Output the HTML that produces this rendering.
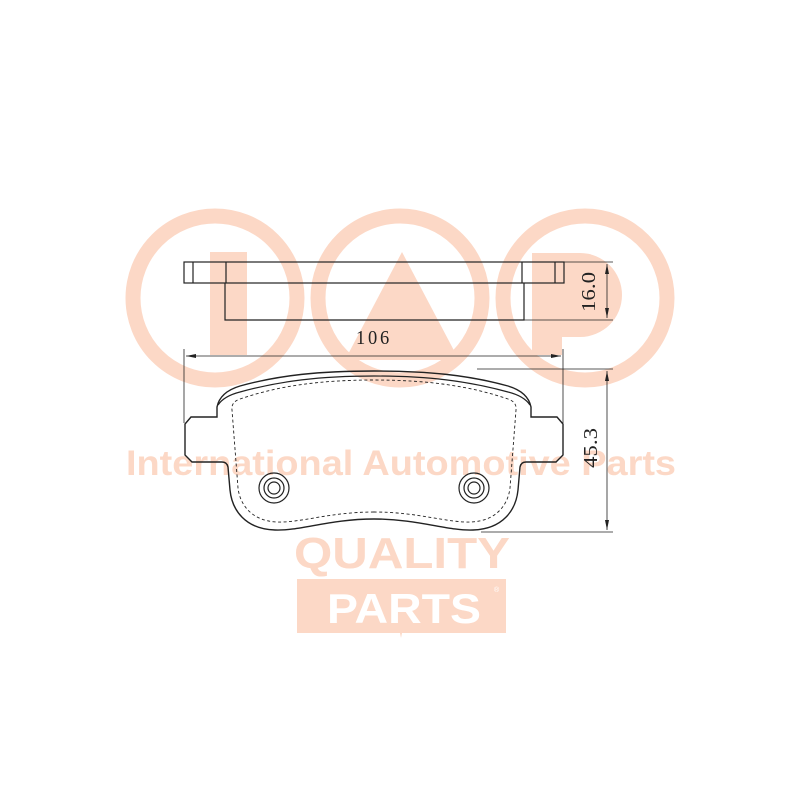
<!DOCTYPE html>
<html><head><style>
html,body{margin:0;padding:0;background:#fff;width:800px;height:800px;overflow:hidden;}
svg{display:block}
</style></head><body>
<svg width="800" height="800" viewBox="0 0 800 800" xmlns="http://www.w3.org/2000/svg">
<g fill="none" stroke="#fcd8c6" stroke-width="15">
<circle cx="215" cy="298" r="82"/>
<circle cx="400" cy="298" r="82"/>
<circle cx="585" cy="298" r="82"/>
</g>
<g fill="#fcd8c6">
<rect x="210" y="252" width="37" height="103"/>
<polygon points="402,252 345,360 459,360"/>
<rect x="532" y="253" width="30" height="102"/>
<path d="M532,253 L580,253 A42,42 0 0 1 580,337 L532,337 Z"/>
<text x="401" y="475" font-family="Liberation Sans, sans-serif" font-weight="bold" font-size="35" text-anchor="middle" textLength="550" lengthAdjust="spacingAndGlyphs">International Automotive Parts</text>
<text x="402" y="568" font-family="Liberation Sans, sans-serif" font-weight="bold" font-size="44" text-anchor="middle" textLength="216" lengthAdjust="spacingAndGlyphs">QUALITY</text>
<path d="M297,579 L506,579 L506,633 L402,633 L401,638 L400,633 L297,633 Z"/>
</g>
<text x="404" y="623" fill="#fff" font-family="Liberation Sans, sans-serif" font-weight="bold" font-size="42" text-anchor="middle" textLength="154" lengthAdjust="spacingAndGlyphs">PARTS</text>
<text x="494" y="592" fill="#fff" font-family="Liberation Sans, sans-serif" font-size="7">®</text>

<g fill="none" stroke="#222" stroke-width="1.2">
<rect x="184" y="262" width="380" height="21"/>
<line x1="193" y1="262" x2="193" y2="283"/>
<line x1="226" y1="262" x2="226" y2="283"/>
<line x1="522" y1="262" x2="522" y2="283"/>
<line x1="555" y1="262" x2="555" y2="283"/>
<polyline points="225,283 225,320 524,320 524,283"/>
<line x1="564" y1="262" x2="613" y2="262" stroke-width="0.8"/>
<line x1="524" y1="320" x2="613" y2="320" stroke-width="0.8"/>
<line x1="607" y1="264" x2="607" y2="318" stroke-width="0.8"/>
<line x1="184" y1="349" x2="184" y2="423" stroke-width="0.8"/>
<line x1="563" y1="349" x2="563" y2="423" stroke-width="0.8"/>
<line x1="186" y1="356" x2="561" y2="356" stroke-width="0.8"/>
<line x1="477" y1="369" x2="613" y2="369" stroke-width="0.8"/>
<line x1="481" y1="532" x2="613" y2="532" stroke-width="0.8"/>
<line x1="607" y1="371" x2="607" y2="530" stroke-width="0.8"/>
<path d="M374,519 C330,519 300,531 275,530 C245,529 232,510 230,490 L228,467 Q227,462 222,462 L192,462 L185,455 L185,424 L191,417 L217,417 L217,407 Q220,392 240,386 C280,375 320,371 374,371 C428,371 468,375 508,386 Q528,392 531,407 L531,417 L557,417 L563,424 L563,455 L556,462 L526,462 Q521,462 520,467 L518,490 C516,510 503,529 473,530 C448,531 418,519 374,519 Z" stroke-width="1.4"/>
<path d="M218,405 Q224,396 240,392 C280,381 320,376 374,376 C428,376 468,381 508,392 Q524,396 530,405" stroke-width="1.2"/>
<path d="M374,512 C330,512 300,523 277,522 C252,521 240,505 238,488 L232,410 Q231,402 240,399 C278,386 320,380 374,380 C428,380 470,386 508,399 Q517,402 516,410 L510,488 C508,505 496,521 471,522 C448,523 418,512 374,512 Z" stroke-dasharray="3,2.5" stroke-width="0.9"/>
<circle cx="274" cy="488" r="15"/><circle cx="274" cy="488" r="10"/><circle cx="274" cy="488" r="6"/>
<circle cx="474" cy="488" r="15"/><circle cx="474" cy="488" r="10"/><circle cx="474" cy="488" r="6"/>
</g>
<g fill="#222">
<polygon points="186,356 196,354 196,358"/>
<polygon points="561,356 551,354 551,358"/>
<polygon points="607,264 605,274 609,274"/>
<polygon points="607,318 605,308 609,308"/>
<polygon points="607,371 605,381 609,381"/>
<polygon points="607,530 605,520 609,520"/>
</g>
<g font-family="Liberation Serif, serif" font-size="20" fill="#222">
<text x="374" y="344" text-anchor="middle" letter-spacing="3" textLength="36" lengthAdjust="spacingAndGlyphs">106</text>
<text transform="translate(595,292) rotate(-90)" text-anchor="middle" textLength="40" lengthAdjust="spacingAndGlyphs">16.0</text>
<text transform="translate(597,448) rotate(-90)" text-anchor="middle" textLength="40" lengthAdjust="spacingAndGlyphs">45.3</text>
</g>
</svg>
</body></html>
